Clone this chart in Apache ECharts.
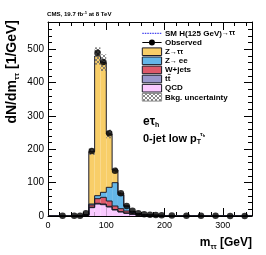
<!DOCTYPE html>
<html><head><meta charset="utf-8">
<script src="https://cdn.jsdelivr.net/npm/echarts@6/dist/echarts.min.js"></script>
<style>html,body{margin:0;padding:0;background:#fff}#c{width:266px;height:255px}</style>
</head><body><div id="c"></div>
<script>
// ---- data (dN/dm in 1/GeV) ----
const binEdges = [0,10,20,30,40,50,60,70,80,90,100,110,120,130,140,150,160,170,180,190,200,225,250,275,300,325,350];
const observed = [null,null,0.5,null,0.5,1,8,195,490,462,248,136,68,30,16,8,5,3.5,3,2.5,1.5,1,0.6,0.5,0.3,0.3];
const qcd   = [0,0,0.05,0.05,0.2,0.5,1.5,25,36,34,27,18,12,8,5,3,1.8,1.3,1.0,0.8,0.6,0.4,0.3,0.2,0.15,0.1];
const ttbar = [0,0,0,0,0.05,0.1,0.3,1.5,2,2,2,1.5,1.2,1,0.8,0.6,0.5,0.4,0.35,0.3,0.25,0.2,0.15,0.1,0.08,0.06];
const wjets = [0,0,0.05,0.05,0.2,0.4,1,6.5,14,20,16,10.5,8.8,6,3.2,1.9,1.2,0.9,0.7,0.6,0.45,0.35,0.25,0.2,0.15,0.1];
const zee   = [0,0,0,0,0.05,0.1,0.3,3,9,15,41,70,41,14,4,1.5,0.6,0.3,0.2,0.15,0.1,0.07,0.05,0.03,0.02,0.02];
const ztt   = [0,0,0,0,0.1,0.3,1.5,157,419,389,160,38,5,1.5,1,0.5,0.3,0.2,0.1,0.1,0.05,0.03,0.02,0.02,0.01,0.01];
const bkgUnc = [0,0,0,0,0.05,0.1,0.5,10,26,25,13,7,4,2,1,0.6,0.4,0.3,0.2,0.2,0.1,0.1,0.05,0.05,0.03,0.03];
const xTickLabels = [0,100,200,300];
const yTickLabels = [0,100,200,300,400,500];

const FONT = '"Liberation Sans", Arial, Helvetica, sans-serif';
const n = binEdges.length - 1;
const layers = [
  {name:'QCD', vals:qcd, color:'#FACAFF'},
  {name:'tt', vals:ttbar, color:'#9B98CC'},
  {name:'W+jets', vals:wjets, color:'#DE5A6A'},
  {name:'Z→ee', vals:zee, color:'#64B6E8'},
  {name:'Z→ττ', vals:ztt, color:'#F8CE68'}
];
const EDGE = '#1c1c28';

function makeLayerRender(color){
  return function(params, api){
    const x0 = api.value(0), x1 = api.value(1), lo = api.value(2), hi = api.value(3), prev = api.value(4);
    const pa = api.coord([x0, hi]), pb = api.coord([x1, lo]), pp = api.coord([x0, prev]);
    return {type:'group', children:[
      {type:'rect', z2:1, shape:{x:pa[0], y:pa[1], width:pb[0]-pa[0], height:pb[1]-pa[1]}, style:{fill:color}},
      {type:'line', z2:10, shape:{x1:pa[0], y1:pa[1], x2:pb[0], y2:pa[1]}, style:{stroke:EDGE, lineWidth:1}},
      {type:'line', z2:10, shape:{x1:pa[0], y1:pp[1], x2:pa[0], y2:pa[1]}, style:{stroke:EDGE, lineWidth:1}}
    ]};
  };
}

const series = [];
let cum = new Array(n).fill(0);
layers.forEach(L => {
  const next = cum.map((c,i) => c + L.vals[i]);
  const data = [];
  for (let i = 0; i < n; i++) {
    data.push([binEdges[i], binEdges[i+1], cum[i], next[i], i > 0 ? next[i-1] : cum[i]]);
  }
  series.push({type:'custom', name:L.name, xAxisIndex:0, yAxisIndex:0, z:2, clip:true,
    renderItem: makeLayerRender(L.color), data:data, silent:true});
  cum = next;
});

// hatch pattern
const pc = document.createElement('canvas'); pc.width = 4; pc.height = 4;
const g = pc.getContext('2d'); g.strokeStyle = '#6a6a6a'; g.lineWidth = 0.8;
g.beginPath(); g.moveTo(0,0); g.lineTo(4,4); g.moveTo(4,0); g.lineTo(0,4); g.stroke();
const hatch = {image: pc, repeat: 'repeat'};

const uncData = [];
for (let i = 0; i < n; i++) uncData.push([binEdges[i], binEdges[i+1], cum[i]-bkgUnc[i], cum[i]+bkgUnc[i]]);
series.push({type:'custom', name:'Bkg. uncertainty', z:3, clip:true, silent:true, data:uncData,
  renderItem:function(params, api){
    const pa = api.coord([api.value(0), api.value(3)]), pb = api.coord([api.value(1), api.value(2)]);
    return {type:'rect', shape:{x:pa[0], y:pa[1], width:pb[0]-pa[0], height:pb[1]-pa[1]}, style:{fill:hatch}};
  }});

const obsData = [];
for (let i = 0; i < n; i++) if (observed[i] !== null) obsData.push([(binEdges[i]+binEdges[i+1])/2, observed[i]]);
series.push({type:'scatter', name:'Observed', z:4, data:obsData, symbol:'circle', symbolSize:6.5,
  itemStyle:{color:'#000'}, silent:true, clip:false});

function majorAxis(pos, labels, isX, max, labelArr, fs){
  return {gridIndex:0, type:'value', position:pos, min:0, max:max, interval:100,
    axisLine:{show:true, onZero:false, lineStyle:{color:'#000', width:1}},
    axisTick:{show:true, inside:true, length:8, lineStyle:{color:'#000', width:1}},
    minorTick:{show:false}, splitLine:{show:false},
    axisLabel:{show:labels, fontSize:fs, color:'#000', fontFamily:FONT, margin:isX?5:4,
      formatter:function(v){ return labelArr.indexOf(v) >= 0 ? String(v) : ''; }}};
}
function minorAxis(pos, max){
  return {gridIndex:1, type:'value', position:pos, min:0, max:max, interval:20,
    axisLine:{show:false, onZero:false}, axisTick:{show:true, inside:true, length:4, lineStyle:{color:'#000', width:1}},
    axisLabel:{show:false}, splitLine:{show:false}};
}
const YMAX = 582;

const legX = 142.3, legW = 19.3, legH = 7.6, txX = 165;
const legY = [33.3, 42.5, 51.7, 60.8, 69.9, 79.0, 88.2, 97.3];
const boxes = [
  {c:'#F8CE68', y:legY[2]}, {c:'#64B6E8', y:legY[3]}, {c:'#DE5A6A', y:legY[4]},
  {c:'#9B98CC', y:legY[5]}, {c:'#FACAFF', y:legY[6]}
];
const big = {fontSize:8, fontWeight:'bold', fontFamily:FONT};
const sml = {fontSize:7, fontWeight:'bold', fontFamily:FONT};
const graphic = [];
graphic.push({type:'line', silent:true, shape:{x1:legX, y1:legY[0], x2:legX+legW, y2:legY[0]}, style:{stroke:'#4646F0', lineWidth:1.2, lineDash:[1.5,1]}});
graphic.push({type:'line', silent:true, shape:{x1:legX, y1:legY[1], x2:legX+legW, y2:legY[1]}, style:{stroke:'#000', lineWidth:1}});
graphic.push({type:'circle', silent:true, shape:{cx:legX+legW/2, cy:legY[1], r:3}, style:{fill:'#000'}});
boxes.forEach(b => graphic.push({type:'rect', silent:true, shape:{x:legX, y:b.y-legH/2, width:legW, height:legH}, style:{fill:b.c, stroke:EDGE, lineWidth:1}}));
graphic.push({type:'rect', silent:true, shape:{x:legX, y:legY[7]-legH/2, width:legW, height:legH}, style:{fill:hatch, stroke:'#777', lineWidth:0.8}});
const legTexts = [
  '{b|SM H(125 GeV)}{s|→ττ}', '{b|Observed}', '{b|Z}{s|→ττ}', '{b|Z}{s|→ }{b|ee}', '{b|W+jets}', '{b|tt}', '{b|QCD}', '{b|Bkg. uncertainty}'
];
legTexts.forEach((t,i) => graphic.push({type:'text', silent:true, x:txX, y:legY[i], style:{text:t, verticalAlign:'middle', align:'left', fill:'#000',
  rich:{b:big, s:sml}}}));
// bar over the second t of "tt"
graphic.push({type:'line', silent:true, shape:{x1:167.8, y1:legY[5]-4.6, x2:170.6, y2:legY[5]-4.6}, style:{stroke:'#000', lineWidth:0.8}});

// title
graphic.push({type:'text', silent:true, x:47, y:14.5, style:{text:'{a|CMS, 19.7 fb}{s|-1}{a| at 8 TeV}', verticalAlign:'middle', align:'left', fill:'#000',
  rich:{a:{fontSize:6.1, fontWeight:'bold', fontFamily:FONT, lineHeight:8}, s:{fontSize:4.2, fontWeight:'bold', fontFamily:FONT, verticalAlign:'top'}}}});
// y title
graphic.push({type:'text', silent:true, x:12, y:20, rotation:Math.PI/2, style:{text:'{a|dN/dm}{s|ττ}{a| [1/GeV]}', verticalAlign:'middle', align:'right', fill:'#000',
  rich:{a:{fontSize:14, fontWeight:'bold', fontFamily:FONT, lineHeight:17}, s:{fontSize:8, fontWeight:'bold', fontFamily:FONT, verticalAlign:'bottom'}}}});
// x title
graphic.push({type:'text', silent:true, x:252, y:243, style:{text:'{a|m}{s|ττ}{a| [GeV]}', verticalAlign:'middle', align:'right', fill:'#000',
  rich:{a:{fontSize:12, fontWeight:'bold', fontFamily:FONT, lineHeight:15}, s:{fontSize:7, fontWeight:'bold', fontFamily:FONT, verticalAlign:'bottom'}}}});
// channel labels
graphic.push({type:'text', silent:true, x:143, y:121.5, style:{text:'{a|eτ}{s|h}', verticalAlign:'middle', align:'left', fill:'#000',
  rich:{a:{fontSize:12, fontWeight:'bold', fontFamily:FONT, lineHeight:15}, s:{fontSize:7, fontWeight:'bold', fontFamily:FONT, verticalAlign:'bottom'}}}});
graphic.push({type:'text', silent:true, x:143, y:139, style:{text:'{a|0-jet low p}{s|T}', verticalAlign:'middle', align:'left', fill:'#000',
  rich:{a:{fontSize:11, fontWeight:'bold', fontFamily:FONT, lineHeight:14}, s:{fontSize:7, fontWeight:'bold', fontFamily:FONT, verticalAlign:'bottom'}}}});
graphic.push({type:'text', silent:true, x:200, y:134.5, style:{text:'{s|τ}{t|h}', verticalAlign:'middle', align:'left', fill:'#000',
  rich:{s:{fontSize:6, fontWeight:'bold', fontFamily:FONT, lineHeight:7}, t:{fontSize:4, fontWeight:'bold', fontFamily:FONT, verticalAlign:'bottom'}}}});

const chart = echarts.init(document.getElementById('c'), null, {renderer:'canvas'});
chart.setOption({
  animation:false,
  backgroundColor:'#fff',
  textStyle:{fontFamily:FONT},
  grid:[{left:48, right:14, top:22, bottom:39, outerBoundsMode:'none'}, {left:48, right:14, top:22, bottom:39, outerBoundsMode:'none'}],
  xAxis:[majorAxis('bottom', true, true, 350, xTickLabels, 9), majorAxis('top', false, true, 350, xTickLabels, 9), minorAxis('bottom', 350), minorAxis('top', 350)],
  yAxis:[majorAxis('left', true, false, YMAX, yTickLabels, 10), majorAxis('right', false, false, YMAX, yTickLabels, 10), minorAxis('left', YMAX), minorAxis('right', YMAX)],
  series:series,
  graphic:graphic
});
</script></body></html>
